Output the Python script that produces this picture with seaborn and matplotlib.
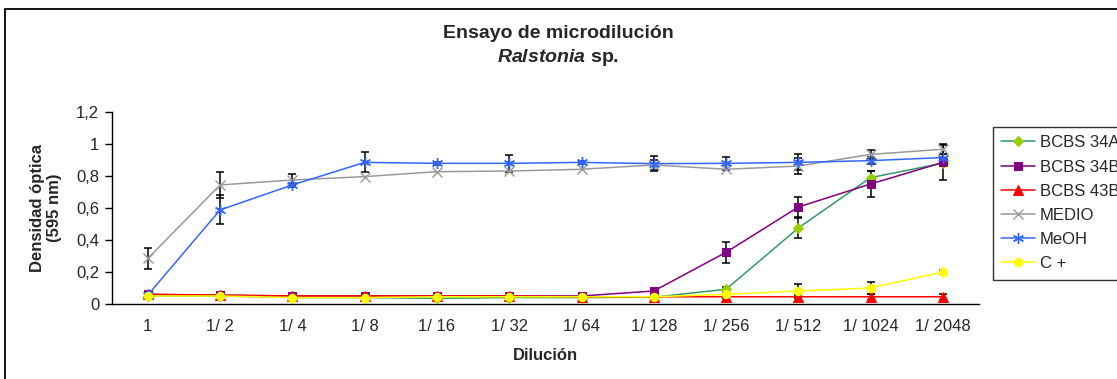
import numpy as np
import pandas as pd
import matplotlib
matplotlib.use("Agg")
import matplotlib.pyplot as plt
import seaborn as sns
from matplotlib.patches import Rectangle

# ---------------- data ----------------
dilutions = ['1', '1/ 2', '1/ 4', '1/ 8', '1/ 16', '1/ 32', '1/ 64',
             '1/ 128', '1/ 256', '1/ 512', '1/ 1024', '1/ 2048']

bcbs34a = [0.05, 0.05, 0.04, 0.04, 0.035, 0.04, 0.04, 0.042, 0.092, 0.475, 0.79, 0.88]
bcbs34b = [0.06, 0.055, 0.05, 0.05, 0.05, 0.05, 0.05, 0.081, 0.323, 0.606, 0.75, 0.885]
bcbs43b = [0.06, 0.055, 0.05, 0.05, 0.05, 0.05, 0.045, 0.045, 0.045, 0.045, 0.045, 0.045]
medio = [0.285, 0.744, 0.775, 0.796, 0.827, 0.831, 0.842, 0.869, 0.842, 0.862, 0.935, 0.967]
meoh = [0.056, 0.588, 0.744, 0.885, 0.879, 0.879, 0.885, 0.877, 0.879, 0.885, 0.896, 0.915]
cplus = [0.05, 0.05, 0.04, 0.04, 0.045, 0.045, 0.045, 0.045, 0.06, 0.081, 0.10, 0.20]

err34a = [0, 0, 0, 0, 0, 0, 0, 0, 0.015, 0.06, 0.04, 0.02]
err34b = [0, 0, 0, 0, 0, 0, 0, 0.01, 0.065, 0.065, 0.08, 0.11]
err43b = [0, 0, 0, 0, 0, 0, 0, 0, 0.01, 0.01, 0.02, 0.02]
errmedio = [0.065, 0.08, 0.035, 0, 0, 0, 0, 0.03, 0, 0.05, 0.03, 0.03]
errmeoh = [0, 0.09, 0.01, 0.062, 0.01, 0.055, 0.01, 0.045, 0.04, 0.05, 0.02, 0.02]
errcplus = [0, 0, 0, 0, 0, 0, 0, 0, 0.01, 0.045, 0.04, 0.015]

series_names = ['BCBS 34A', 'BCBS 34B', 'BCBS 43B', 'MEDIO', 'MeOH', 'C +']
yticks = [0, 0.2, 0.4, 0.6, 0.8, 1.0, 1.2]
ytick_labels = ['0', '0,2', '0,4', '0,6', '0,8', '1', '1,2']

# ---------------- style ----------------
sns.set_style("white")
plt.rcParams['font.family'] = ['Liberation Sans', 'DejaVu Sans']
plt.rcParams['mathtext.fontset'] = 'custom'
plt.rcParams['mathtext.rm'] = 'Liberation Sans:bold'
plt.rcParams['mathtext.it'] = 'Liberation Sans:italic:bold'
plt.rcParams['mathtext.bf'] = 'Liberation Sans:bold'

fig = plt.figure(figsize=(11.17, 3.79), dpi=100)
ax = fig.add_axes([0.1, 0.198, 0.7765, 0.5065])

values = [bcbs34a, bcbs34b, bcbs43b, medio, meoh, cplus]
errors = [err34a, err34b, err43b, errmedio, errmeoh, errcplus]
styles = [
    dict(color='#339966', marker='D', markerfacecolor='#99CC00', markeredgecolor='#99CC00', markersize=5.5),
    dict(color='#800080', marker='s', markerfacecolor='#800080', markeredgecolor='#800080', markersize=5.5),
    dict(color='#FF0000', marker='^', markerfacecolor='#FF0000', markeredgecolor='#FF0000', markersize=6.5),
    dict(color='#999999', marker='x', markerfacecolor='#999999', markeredgecolor='#999999', markersize=7, markeredgewidth=1),
    dict(color='#3366FF', marker=(6, 2, 0), markerfacecolor='#3366FF', markeredgecolor='#3366FF', markersize=8, markeredgewidth=1),
    dict(color='#FFFF00', marker='o', markerfacecolor='#FFFF00', markeredgecolor='#FFFF00', markersize=6),
]

for name, vals, errs, st in zip(series_names, values, errors, styles):
    df = pd.DataFrame({'Dilución': dilutions, 'OD': vals})
    sns.lineplot(data=df, x='Dilución', y='OD', sort=False, errorbar=None,
                 ax=ax, label=name, linewidth=1.1, zorder=3, **st)
    idx = [i for i, e in enumerate(errs) if e > 0]
    if idx:
        ax.errorbar([dilutions[i] for i in idx], [vals[i] for i in idx],
                    yerr=[errs[i] for i in idx], fmt='none', ecolor='black',
                    elinewidth=1.1, capsize=3.2, capthick=1.1, zorder=2)

ax.set_xlim(-0.5, 11.5)
ax.set_ylim(0, 1.2)
ax.set_yticks(yticks)
ax.set_yticklabels(ytick_labels, fontsize=12)
ax.set_xticks(np.arange(len(dilutions)))
ax.set_xticklabels(dilutions, fontsize=12)
ax.set_xticks(np.arange(-0.5, len(dilutions), 1), minor=True)
ax.tick_params(axis='x', which='major', length=0, pad=11)
ax.tick_params(axis='x', which='minor', length=5, width=1, direction='out', color='black')
ax.tick_params(axis='y', which='major', length=5, width=1, direction='out', color='black', pad=4, left=True)

for s in ['top', 'right']:
    ax.spines[s].set_visible(False)
for s in ['left', 'bottom']:
    ax.spines[s].set_color('black')
    ax.spines[s].set_linewidth(1)

ax.set_xlabel('Dilución', fontsize=12, fontweight='bold', labelpad=10)
ax.set_ylabel('Densidad óptica\n(595 nm)', fontsize=12, fontweight='bold', labelpad=10)

# title
fig.text(0.5, 1 - 34 / 379, 'Ensayo de microdilución', ha='center', va='center',
         fontsize=14, fontweight='bold')
fig.text(0.5, 1 - 58 / 379, r'$\it{Ralstonia}$ sp.', ha='center', va='center',
         fontsize=14, fontweight='bold')

# legend
leg = ax.legend(loc='upper left', bbox_to_anchor=(993 / 1117, 1 - 127 / 379),
                bbox_transform=fig.transFigure, frameon=True, fancybox=False,
                fontsize=12, handlelength=2.0, handletextpad=0.3, labelspacing=0.55,
                borderpad=0.5, borderaxespad=0)
leg.get_frame().set_edgecolor('black')
leg.get_frame().set_linewidth(1)

# figure border
fig.patches.append(Rectangle((5 / 1117, -0.05), 1.1, 1 - 9 / 379 + 0.05,
                             transform=fig.transFigure, fill=False,
                             edgecolor='black', linewidth=1.3, clip_on=False))

fig.savefig('out.png', dpi=100)
